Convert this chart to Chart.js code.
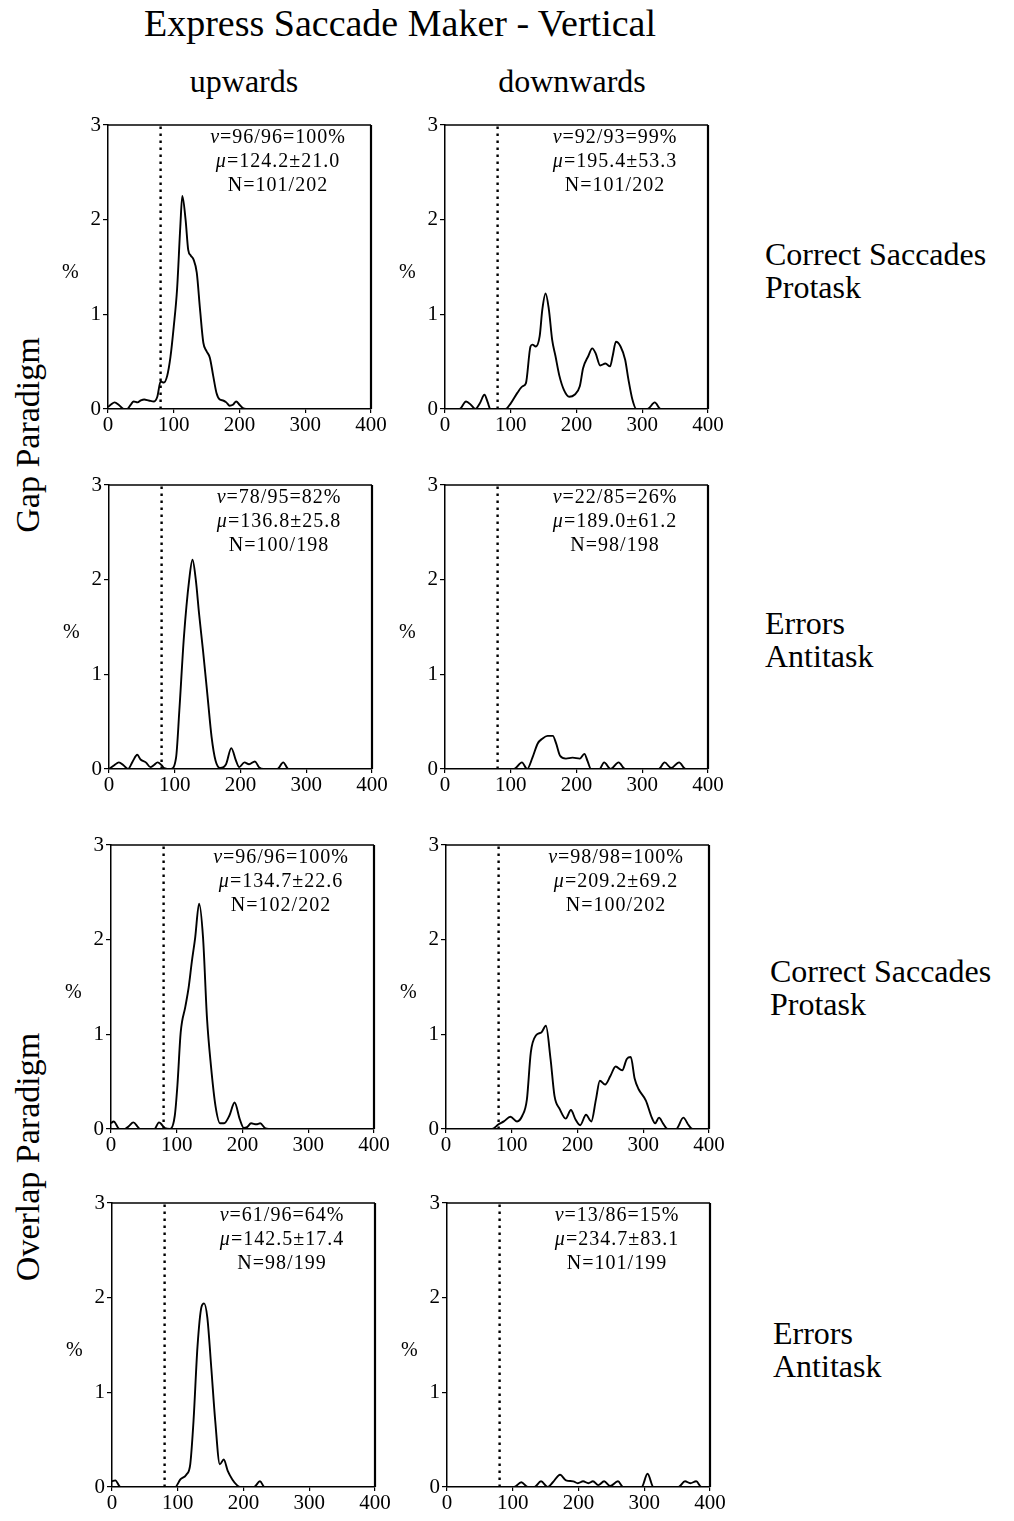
<!DOCTYPE html>
<html>
<head>
<meta charset="utf-8">
<script src="https://cdn.jsdelivr.net/npm/chart.js@4.4.1/dist/chart.umd.min.js"></script>
<style>
body{margin:0;background:#fff;width:1014px;height:1521px;position:relative;overflow:hidden;font-family:"Liberation Serif",serif;color:#000}
canvas{position:absolute}
.t{position:absolute;white-space:nowrap;line-height:1}
.row{position:absolute;white-space:nowrap;font-size:32px;line-height:33px}
.ann{position:absolute;font-size:20px;line-height:24px;letter-spacing:1px;text-align:center;width:220px;white-space:nowrap}
.rot{position:absolute;white-space:nowrap;font-size:34px;line-height:1;transform:translate(-50%,-50%) rotate(-90deg)}
</style>
</head>
<body>
<div class="t" style="left:0;width:800px;text-align:center;top:4px;font-size:38px">Express Saccade Maker - Vertical</div>
<div class="t" style="left:144px;width:200px;text-align:center;top:65px;font-size:32px">upwards</div>
<div class="t" style="left:472px;width:200px;text-align:center;top:65px;font-size:32px">downwards</div>

<div class="row" style="left:765px;top:238px">Correct Saccades<br>Protask</div>
<div class="row" style="left:765px;top:607px">Errors<br>Antitask</div>
<div class="row" style="left:770px;top:955px">Correct Saccades<br>Protask</div>
<div class="row" style="left:773px;top:1317px">Errors<br>Antitask</div>

<div class="rot" style="left:28px;top:435px">Gap Paradigm</div>
<div class="rot" style="left:28px;top:1157px">Overlap Paradigm</div>

<script>
// latency axis (ms) and percent axis
const xTicks = [0, 100, 200, 300, 400];
const yTicks = [0, 1, 2, 3];
const gapLine = 80; // dotted marker at 80 ms

// Gap paradigm, correct saccades protask, upwards
const gapUpProX = [0,5,10,17,24,29,35,39,45,50,55,62,70,75,80,85,90,95,100,105,110,113,118,122,126,130,135,140,145,150,155,160,165,170,175,180,185,190,195,200,205,210,400];
const gapUpProY = [0.02,0.05,0.07,0.04,0,0,0.05,0.08,0.07,0.09,0.1,0.09,0.08,0.13,0.29,0.28,0.35,0.55,0.87,1.26,1.93,2.25,2.0,1.68,1.62,1.58,1.44,1.05,0.7,0.61,0.54,0.35,0.17,0.1,0.09,0.07,0.035,0.045,0.08,0.045,0.01,0,0];
// Gap paradigm, correct saccades protask, downwards
const gapDownProX = [0,22,32,40,46,53,60,65,69,92,100,110,118,123,130,133,138,144,148,153,158,163,168,174,181,189,197,205,210,218,224,229,236,244,251,255,260,267,274,279,285,291,308,319,328,400];
const gapDownProY = [0,0,0.08,0.04,0,0.06,0.15,0.07,0,0,0.06,0.17,0.24,0.27,0.66,0.68,0.66,0.77,1.05,1.22,1.05,0.73,0.56,0.35,0.2,0.13,0.15,0.24,0.43,0.56,0.64,0.59,0.46,0.48,0.45,0.56,0.71,0.66,0.52,0.31,0.1,0,0,0.07,0,0];
// Gap paradigm, errors antitask, upwards
const gapUpAntiX = [0,8,15,22,29,36,43,48,56,63,68,74,80,84,94,102,107,114,122,127,132,137,143,150,156,162,169,178,186,193,198,206,213,222,228,235,256,265,273,400];
const gapUpAntiY = [0,0.04,0.07,0.04,0,0.08,0.15,0.1,0.07,0.02,0.04,0.07,0.04,0.01,0,0.12,0.62,1.4,2.0,2.21,2.0,1.64,1.25,0.76,0.34,0.09,0.01,0.05,0.22,0.09,0.02,0.07,0.05,0.08,0.02,0,0,0.07,0,0];
// Gap paradigm, errors antitask, downwards
const gapDownAntiX = [0,105,117,125,133,141,148,156,164,169,175,184,194,205,212,217,222,235,242,252,264,274,325,334,344,356,366,400];
const gapDownAntiY = [0,0,0.07,0,0.12,0.27,0.32,0.35,0.35,0.27,0.14,0.11,0.12,0.11,0.16,0.08,0,0,0.07,0,0.07,0,0,0.07,0.01,0.07,0,0];
// Overlap paradigm, correct saccades protask, upwards
const ovlUpProX = [0,4,13,21,27,34,41,44,66,73,82,90,97,101,106,113,118,123,128,134,140,146,152,159,166,172,180,188,196,202,207,213,221,227,234,240,400];
const ovlUpProY = [0.06,0.08,0,0,0.03,0.07,0.02,0,0,0.07,0.01,0,0.14,0.46,1.02,1.29,1.49,1.77,2.02,2.38,2.02,1.17,0.67,0.24,0.06,0.06,0.14,0.28,0.1,0.01,0.02,0.06,0.05,0.06,0.01,0,0];
// Overlap paradigm, correct saccades protask, downwards
const ovlDownProX = [0,70,80,88,98,108,116,123,129,137,145,152,159,165,173,182,190,197,204,213,221,228,234,242,250,258,268,275,281,287,293,304,313,318,324,330,337,350,361,369,375,400];
const ovlDownProY = [0,0,0.05,0.08,0.13,0.08,0.14,0.31,0.81,0.99,1.02,1.09,0.74,0.35,0.21,0.11,0.2,0.1,0.04,0.15,0.08,0.31,0.51,0.47,0.56,0.66,0.62,0.74,0.76,0.53,0.42,0.3,0.12,0.06,0.12,0.06,0,0,0.12,0.04,0,0];
// Overlap paradigm, errors antitask, upwards
const ovlUpAntiX = [0,5,13,96,104,113,119,124,130,136,140,145,151,157,164,170,176,183,190,195,216,225,232,400];
const ovlUpAntiY = [0.06,0.07,0,0,0.08,0.13,0.24,0.7,1.48,1.9,1.94,1.79,1.26,0.7,0.24,0.29,0.17,0.08,0.02,0,0,0.06,0,0];
// Overlap paradigm, errors antitask, downwards
const ovlDownAntiX = [0,102,113,123,133,143,153,161,172,181,192,199,207,215,222,230,239,248,260,268,296,305,314,352,362,370,379,387,400];
const ovlDownAntiY = [0,0,0.05,0,0,0.06,0,0.05,0.13,0.07,0.06,0.04,0.06,0.04,0.06,0.02,0.06,0.01,0.06,0,0,0.14,0,0,0.06,0.04,0.06,0,0];

// statistics printed in each panel
const statNu = ['96/96=100%','92/93=99%','78/95=82%','22/85=26%','96/96=100%','98/98=100%','61/96=64%','13/86=15%'];
const statMu = ['124.2±21.0','195.4±53.3','136.8±25.8','189.0±61.2','134.7±22.6','209.2±69.2','142.5±17.4','234.7±83.1'];
const statN  = ['101/202','101/202','100/198','98/198','102/202','100/202','98/199','101/199'];

const series = [
  [gapUpProX, gapUpProY], [gapDownProX, gapDownProY],
  [gapUpAntiX, gapUpAntiY], [gapDownAntiX, gapDownAntiY],
  [ovlUpProX, ovlUpProY], [ovlDownProX, ovlDownProY],
  [ovlUpAntiX, ovlUpAntiY], [ovlDownAntiX, ovlDownAntiY]
];

// plot-area top-left corner of every panel on the page
const plotPos = [[108,125],[445,125],[109,485],[445,485],[111,845],[446,845],[112,1203],[447,1203]];
const plotW = 263, plotH = 284;
const axW = 30, axH = 30, padTop = 12, padRight = 18;
const tickFont = {family: '"Liberation Serif", serif', size: 21};

Chart.defaults.color = '#000';

const frame = {
  id: 'frame',
  afterDatasetsDraw(chart) {
    const a = chart.chartArea, c = chart.ctx;
    c.save();
    c.strokeStyle = '#000';
    c.lineWidth = 1.5;
    c.beginPath(); c.moveTo(a.left, a.top); c.lineTo(a.right, a.top); c.stroke();
    c.lineWidth = 2.2;
    c.beginPath(); c.moveTo(a.right, a.top); c.lineTo(a.right, a.bottom); c.stroke();
    c.restore();
  }
};

function noPad(s) { s.paddingLeft = 0; s.paddingRight = 0; s.paddingTop = 0; s.paddingBottom = 0; }

series.forEach(([xs, ys], i) => {
  const [px, py] = plotPos[i];
  const cv = document.createElement('canvas');
  cv.width = axW + plotW + padRight;
  cv.height = padTop + plotH + axH;
  cv.style.left = (px - axW) + 'px';
  cv.style.top = (py - padTop) + 'px';
  document.body.appendChild(cv);

  new Chart(cv.getContext('2d'), {
    type: 'line',
    data: {
      datasets: [{
        data: xs.map((x, k) => ({x: x, y: ys[k]})),
        borderColor: '#000',
        borderWidth: 1.9,
        pointRadius: 0,
        tension: 0.4,
        cubicInterpolationMode: 'monotone'
      }, {
        data: [{x: gapLine, y: 0}, {x: gapLine, y: 3}],
        borderColor: '#000',
        borderWidth: 2.4,
        borderDash: [2.4, 4.6],
        pointRadius: 0
      }]
    },
    options: {
      responsive: false,
      animation: false,
      layout: {padding: {top: padTop, right: padRight, left: 0, bottom: 0}},
      plugins: {legend: {display: false}, tooltip: {enabled: false}},
      scales: {
        x: {
          type: 'linear', min: 0, max: 400,
          afterBuildTicks: s => { s.ticks = xTicks.map(v => ({value: v})); },
          ticks: {autoSkip: false, maxRotation: 0, padding: 0, color: '#000', font: tickFont},
          grid: {drawOnChartArea: false, tickLength: 4, color: '#000', lineWidth: 1.2},
          border: {color: '#000', width: 1.5},
          afterFit: s => { s.height = axH; noPad(s); }
        },
        y: {
          min: 0, max: 3,
          afterBuildTicks: s => { s.ticks = yTicks.map(v => ({value: v})); },
          ticks: {padding: 2, color: '#000', font: tickFont},
          grid: {drawOnChartArea: false, tickLength: 5, color: '#000', lineWidth: 1.2},
          border: {color: '#000', width: 1.5},
          afterFit: s => { s.width = axW; noPad(s); }
        }
      }
    },
    plugins: [frame]
  });

  const pct = document.createElement('div');
  pct.className = 't';
  pct.style.fontSize = '20px';
  pct.style.left = (px - 46) + 'px';
  pct.style.top = (py + 136) + 'px';
  pct.textContent = '%';
  document.body.appendChild(pct);

  const ann = document.createElement('div');
  ann.className = 'ann';
  ann.style.left = (px + 170 - 110) + 'px';
  ann.style.top = (py - 1) + 'px';
  ann.innerHTML = '<i>ν</i>=' + statNu[i] + '<br><i>μ</i>=' + statMu[i] + '<br>N=' + statN[i];
  document.body.appendChild(ann);
});
</script>
</body>
</html>
